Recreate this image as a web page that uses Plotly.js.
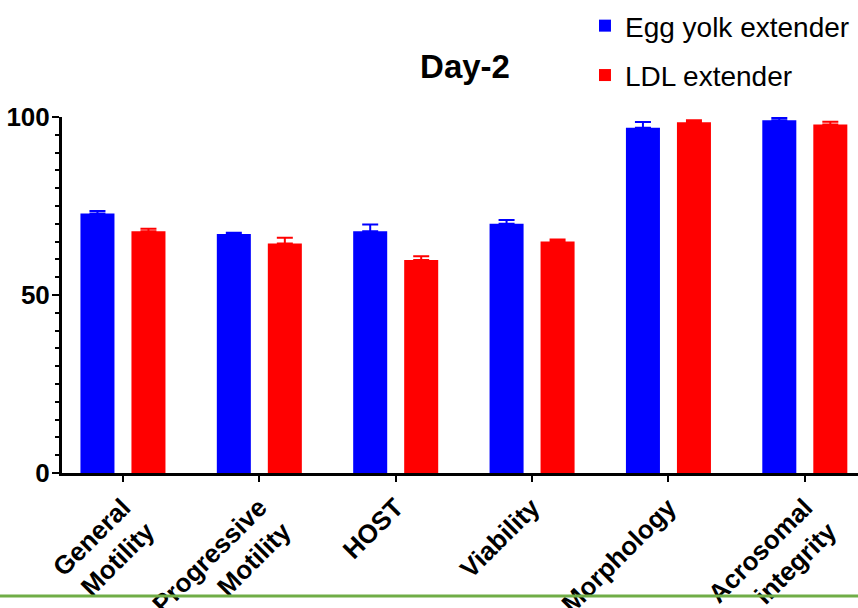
<!DOCTYPE html>
<html>
<head>
<meta charset="utf-8">
<script src="https://cdn.plot.ly/plotly-3.0.1.min.js"></script>
<style>html,body{margin:0;padding:0;background:#fff;}#chart{width:858px;height:608px;}</style>
</head>
<body>
<div id="chart"></div>
<script>
const categories = ["General<br>Motility", "Progressive<br>Motility", "HOST", "Viability", "Morphology", "Acrosomal<br>integrity"];
const eggYolk = [72.9, 67.1, 67.9, 70.0, 97.0, 99.1];
const eggYolkErr = [0.7, 0.4, 1.9, 1.1, 1.6, 0.6];
const ldl = [67.9, 64.5, 59.8, 65.0, 98.5, 97.9];
const ldlErr = [0.7, 1.6, 1.1, 0.6, 0.6, 0.8];
const yTicks = [0, 50, 100];

const zeros = categories.map(() => 0);
const FONT = "Arial, 'Liberation Sans', sans-serif";

const traces = [
  {
    type: "bar", name: "Egg yolk extender", x: categories, y: eggYolk,
    marker: {color: "#0000FF"}, legendgroup: "a",
    error_y: {type: "data", array: eggYolkErr, arrayminus: zeros, symmetric: false, color: "#0000FF", thickness: 2, width: 8}
  },
  {
    type: "bar", name: "LDL extender", x: categories, y: ldl,
    marker: {color: "#FF0000"}, legendgroup: "b",
    error_y: {type: "data", array: ldlErr, arrayminus: zeros, symmetric: false, color: "#FF0000", thickness: 2, width: 8}
  }
];

const layout = {
  width: 858, height: 608,
  margin: {l: 62, r: 0, t: 117, b: 135, pad: 0},
  paper_bgcolor: "#fff", plot_bgcolor: "#fff",
  font: {family: FONT, color: "#000"},
  barmode: "group", bargap: 0.252, bargroupgap: 0.333,
  title: {text: "<b>Day-2</b>", x: 0.542, xref: "container", xanchor: "center", y: 0.89, yref: "container", yanchor: "middle", font: {size: 33, family: FONT, color: "#000"}},
  showlegend: true,
  legend: {x: 0.657, xanchor: "left", y: 1.326, yanchor: "top", font: {size: 28, family: FONT, color: "#000"}, traceorder: "grouped", tracegroupgap: 10, bgcolor: "rgba(0,0,0,0)"},
  xaxis: {
    type: "category", range: [-0.447, 5.39],
    showline: true, linecolor: "#000", linewidth: 3,
    ticks: "outside", ticklen: 6, tickwidth: 2, tickcolor: "#000",
    tickangle: -45, tickfont: {size: 26, family: FONT, weight: "bold", color: "#000"},
    showgrid: false, zeroline: false, fixedrange: true
  },
  yaxis: {
    range: [0, 100], tickvals: yTicks, ticktext: yTicks.map(String),
    showline: true, linecolor: "#000", linewidth: 3,
    ticks: "outside", ticklen: 7, tickwidth: 2, tickcolor: "#000",
    ticklabelstandoff: -3,
    tickfont: {size: 26, family: FONT, weight: "bold", color: "#000"},
    minor: {dtick: 5, ticks: "outside", ticklen: 4, tickwidth: 2, tickcolor: "#000", showgrid: false},
    showgrid: false, zeroline: false, fixedrange: true
  },
  shapes: [
    {type: "line", xref: "paper", yref: "paper", x0: -62/796, x1: 1, y0: -0.3455, y1: -0.3455, line: {color: "#70AD47", width: 3}}
  ]
};

Plotly.newPlot("chart", traces, layout, {displayModeBar: false, staticPlot: true});
</script>
</body>
</html>
